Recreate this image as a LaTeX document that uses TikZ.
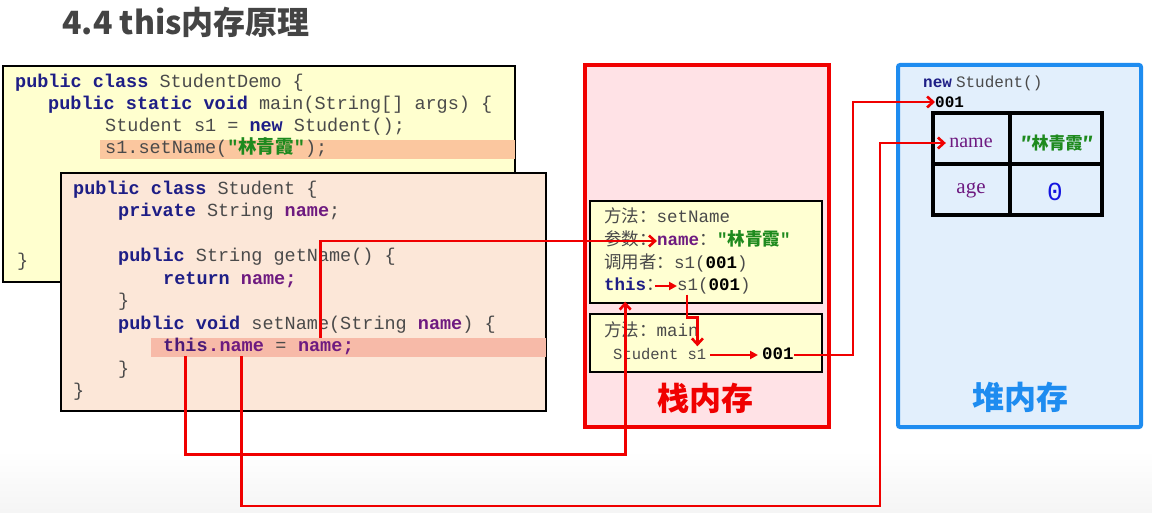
\documentclass[tikz,border=0pt]{standalone}
\usepackage{fontspec}
\setmainfont{Liberation Serif}
\setmonofont{Liberation Mono}
\newfontfamily\cjk{Noto Sans CJK SC}
\usetikzlibrary{arrows.meta,positioning,calc}
\definecolor{KeyNavy}{HTML}{1E1E86}
\definecolor{FieldPurple}{HTML}{6E1A80}
\definecolor{ThisPurple}{HTML}{4B1A78}
\definecolor{StrGreen}{HTML}{1E8A1E}
\definecolor{TitleGray}{HTML}{444444}
\definecolor{TextGray}{HTML}{4A4A4A}
\definecolor{DemoFill}{HTML}{FFFFCF}
\definecolor{DemoMark}{HTML}{FBC79F}
\definecolor{StuFill}{HTML}{FCE7D8}
\definecolor{StuMark}{HTML}{F7BAA8}
\definecolor{StackFill}{HTML}{FFE2E6}
\definecolor{FrameFill}{HTML}{FFFFD2}
\definecolor{HeapFill}{HTML}{E2EFFC}
\definecolor{HeapBlue}{HTML}{1E8CF0}
\definecolor{MemRed}{HTML}{F00000}
\definecolor{ZeroBlue}{HTML}{1414E0}
\newcommand\jkw[1]{{\bfseries\color{KeyNavy}#1}}
\newcommand\jfld[1]{{\bfseries\color{FieldPurple}#1}}
\newcommand\jstr[1]{{\bfseries\color{StrGreen}#1}}
\newcommand\codesize{\ttfamily\fontsize{18.5}{22}\selectfont}
\newcommand\framesize{\ttfamily\fontsize{17.5}{21}\selectfont}

\begin{document}
\begin{tikzpicture}[x=1pt,y=-1pt,
  codeline/.style={anchor=west,inner sep=0pt,text height=14pt,text depth=4pt,font=\codesize,text=TextGray},
  frameline/.style={anchor=west,inner sep=0pt,text height=13pt,text depth=4pt,font=\framesize,text=TextGray},
  codebox/.style={draw=black,line width=1.5pt},
  framebox/.style={draw=black,line width=1.5pt,fill=FrameFill},
  link/.style={draw=MemRed,line width=2.6pt,-{Straight Barb[length=6pt,width=11pt]}},
  shortlink/.style={draw=MemRed,line width=2.4pt,-{Triangle[length=8pt,width=8pt]}},
  memlabel/.style={font=\cjk\bfseries\fontsize{32}{36}\selectfont}]
\useasboundingbox (0,0) rectangle (1152,513);
\fill[white] (0,0) rectangle (1152,513);
\shade[top color=white,bottom color=black!4] (0,450) rectangle (1152,513);

\node[font=\cjk\bfseries\fontsize{32}{36}\selectfont,text=TitleGray] (title) at (186,22) {4.4 this内存原理};

% StudentDemo
\draw[codebox,fill=DemoFill] (3,66) rectangle (515,282);
\fill[DemoMark] (100,140) rectangle (515,159);
\node[codeline] (demoA) at (15,83) {\jkw{public class} StudentDemo \{};
\node[codeline] (demoB) at (48,105) {\jkw{public static void} main(String[] args) \{};
\node[codeline] (demoC) at (105,127) {Student s1 = \jkw{new} Student();};
\node[codeline] (demoD) at (105,149) {s1.setName(\jstr{"{\cjk 林青霞}"});};
\node[codeline] (demoE) at (17,262) {\}};

% Student
\draw[codebox,fill=StuFill] (61,173) rectangle (546,411);
\fill[StuMark] (151,338) rectangle (546,357);
\node[codeline] (stuA) at (73,190) {\jkw{public class} Student \{};
\node[codeline] (stuB) at (118,212) {\jkw{private} String \jfld{name};};
\node[codeline] (stuC) at (118,257) {\jkw{public} String getName() \{};
\node[codeline] (stuD) at (163,279) {\jkw{return} \jfld{name;}};
\node[codeline] (stuE) at (118,301) {\}};
\node[codeline] (stuF) at (118,324) {\jkw{public void} setName(String \jfld{name}) \{};
\node[codeline] (thisKw) at (163,347) {\textbf{\color{ThisPurple}this}};
\node[codeline,right=0pt of thisKw] (dotSep) {\jfld{.}};
\node[codeline,right=0pt of dotSep] (fieldName) {\jfld{name}};
\node[codeline,right=0pt of fieldName] (eqSign) {\ =\ \null};
\node[codeline,right=0pt of eqSign] (argName) {\jfld{name}};
\node[codeline,right=0pt of argName] (semiColon) {\jfld{;}};
\node[codeline] (stuG) at (118,369) {\}};
\node[codeline] (stuH) at (73,391) {\}};

% stack
\draw[MemRed,line width=4pt,fill=StackFill] (585,65) rectangle (829,427);
\draw[framebox] (590,201) rectangle (822,303);
\draw[framebox] (590,314) rectangle (822,372);
\node[frameline] (setNameHdr) at (604,218) {{\cjk 方法：}setName};
\node[frameline] (paramHdr) at (604,241) {\cjk 参数：};
\node[frameline,right=0pt of paramHdr] (paramName) {\jfld{name}};
\node[frameline,right=0pt of paramName] (paramVal) {{\cjk ：}\jstr{"{\cjk 林青霞}"}};
\node[frameline] (callerHdr) at (604,264) {{\cjk 调用者：}s1(\textbf{\color{black}001})};
\node[frameline] (thisLbl) at (604,286) {\jkw{this}};
\node[frameline,right=0pt of thisLbl] (thisColon) {\cjk ：};
\node[frameline] (thisRef) at (677,286) {s1(\textbf{\color{black}001})};
\node[frameline] (mainHdr) at (604,332) {{\cjk 方法：}main};
\node[frameline,font=\ttfamily\fontsize{15.5}{18}\selectfont] (mainVar) at (613,355) {Student s1};
\node[frameline,text=black] (mainRef) at (762,355) {\textbf{001}};
\node[memlabel,text=MemRed] (stackLbl) at (705,398) {栈内存};

% heap
\draw[HeapBlue,line width=4pt,fill=HeapFill,rounded corners=2pt] (898,65) rectangle (1141,427);
\node[anchor=west,inner sep=0pt,font=\ttfamily\fontsize{16}{19}\selectfont] (newExpr) at (923,83) {\jkw{new}\hspace{4pt}{\color{TextGray}Student()}};
\node[anchor=west,inner sep=0pt,font=\ttfamily\bfseries\fontsize{16}{19}\selectfont] (heapAddr) at (935,102) {001};
\draw[line width=4pt] (933,113) rectangle (1102,215);
\draw[line width=4pt] (1010,113) -- (1010,215) (933,164) -- (1102,164);
\node[font=\fontsize{20}{22}\selectfont,text=FieldPurple] (nameKey) at (971,143) {name};
\node[font=\cjk\bfseries\fontsize{17}{20}\selectfont,text=StrGreen] (nameVal) at (1057,143) {″林青霞″};
\node[font=\fontsize{21}{24}\selectfont,text=FieldPurple] (ageKey) at (971,190) {age};
\node[font=\ttfamily\fontsize{26}{28}\selectfont,text=ZeroBlue] (ageVal) at (1055,192) {0};
\node[memlabel,text=HeapBlue] (heapLbl) at (1020,397) {堆内存};

% connectors
\coordinate (heapBus) at (853,102);
\coordinate (fieldBus) at (880,506);
\draw[link] (argName.north) |- (paramName.west);
\draw[link] (thisKw.south) -- ++(0,98) -| ([yshift=-7pt]thisLbl.south);
\draw[link] (fieldName.south) |- (fieldBus) |- (nameKey.west);
\draw[shortlink] (thisColon.center) -- (thisRef.west);
\draw[link] ([xshift=10pt]thisRef.south west) -- ++(0,23) -| ([xshift=-9pt]mainVar.north east);
\draw[shortlink,shorten <=4pt,shorten >=4pt] (mainVar.east) -- (mainRef.west);
\draw[link] (mainRef.east) -| (heapBus) -- (heapAddr.west);
\end{tikzpicture}
\end{document}
